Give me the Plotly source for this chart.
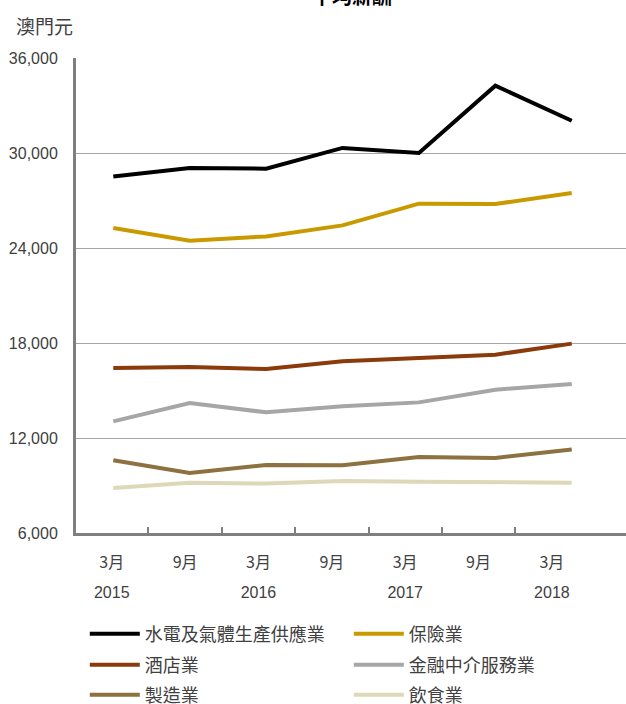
import plotly.graph_objects as go

periods = ["3月 2015", "9月 2015", "3月 2016", "9月 2016", "3月 2017", "9月 2017", "3月 2018"]
month_labels = ["3月", "9月", "3月", "9月", "3月", "9月", "3月"]
year_labels = ["2015", "", "2016", "", "2017", "", "2018"]

series_names = ["水電及氣體生產供應業", "保險業", "酒店業", "金融中介服務業", "製造業", "飲食業"]
utilities = [28520, 29050, 29010, 30320, 30000, 34250, 32040]
insurance = [25260, 24460, 24730, 25430, 26800, 26780, 27470]
hotels = [16420, 16480, 16360, 16840, 17050, 17260, 17960]
finance = [13050, 14210, 13620, 14000, 14250, 15050, 15410]
manufacturing = [10590, 9790, 10300, 10280, 10800, 10740, 11270]
food = [8840, 9180, 9120, 9280, 9240, 9240, 9180]
colors = ["#000000", "#C99A00", "#8B3A0B", "#A6A6A6", "#8E7140", "#DDD8B8"]

all_values = [utilities, insurance, hotels, finance, manufacturing, food]
legend_ids = ["legend", "legend", "legend2", "legend2", "legend3", "legend3"]

idx = list(range(len(periods)))
fig = go.Figure()
for name, vals, col, lg in zip(series_names, all_values, colors, legend_ids):
    fig.add_trace(go.Scatter(
        x=idx, y=vals, name=name, mode="lines",
        line=dict(color=col, width=4), legend=lg,
        hovertext=periods,
    ))

tick_font = dict(family="Liberation Sans Narrow, Arial Narrow, Liberation Sans, Arial, Noto Sans CJK TC", size=16, color="#404040")
cjk_font = dict(family="Noto Sans CJK TC, Liberation Sans, sans-serif", size=16, color="#404040")

fig.update_layout(
    width=626, height=704,
    margin=dict(l=76, r=0, t=58, b=171, autoexpand=False),
    plot_bgcolor="white", paper_bgcolor="white",
    showlegend=True,
    xaxis=dict(visible=False, range=[-0.488, 6.71], fixedrange=True),
    xaxis2=dict(overlaying="x", range=[-0.487, 7.01], tickmode="array",
                tickvals=idx, ticktext=month_labels, ticks="",
                showline=True, linecolor="#7F7F7F", linewidth=3, showgrid=False,
                zeroline=False, tickfont=cjk_font, ticklabelstandoff=13,
                minor=dict(tickmode="array", tickvals=[i + 0.5 for i in idx[:-1]],
                           ticks="inside", ticklen=6, tickwidth=2, tickcolor="#7F7F7F",
                           showgrid=False),
                anchor="y"),
    xaxis3=dict(overlaying="x", range=[-0.487, 7.01], tickmode="array",
                tickvals=idx, ticktext=year_labels, ticks="", showline=False,
                showgrid=False, zeroline=False, tickfont=tick_font,
                ticklabelstandoff=48, anchor="y"),
    yaxis=dict(range=[6000, 36000], dtick=6000, tick0=6000, tickformat=",",
               showgrid=True, gridcolor="#A6A6A6", gridwidth=1.3,
               showline=True, linecolor="#7F7F7F", linewidth=3,
               zeroline=False, ticks="", tickfont=tick_font, ticklabelstandoff=12),
    annotations=[
        dict(text="澳門元", xref="paper", yref="paper", x=-0.112, y=1.0,
             xanchor="left", yanchor="bottom", yshift=17, showarrow=False,
             font=dict(family="Noto Sans CJK TC", size=19, color="#404040")),
        dict(text="<b>平均薪酬</b>", xref="paper", yref="paper", x=0.502, y=1.0,
             xanchor="center", yanchor="middle", yshift=63, showarrow=False,
             font=dict(family="Noto Sans CJK TC", size=20, color="#000000")),
    ],
)

legend_common = dict(orientation="h", xanchor="left", yanchor="middle",
                     entrywidth=199, entrywidthmode="pixels",
                     font=dict(family="Noto Sans CJK TC", size=18, color="#404040"),
                     bgcolor="rgba(0,0,0,0)", traceorder="normal", itemwidth=50)
fig.update_layout(
    legend=dict(x=0.016, y=-0.2126, **legend_common),
    legend2=dict(x=0.016, y=-0.2779, **legend_common),
    legend3=dict(x=0.016, y=-0.3411, **legend_common),
)

fig.add_trace(go.Scatter(x=[None], y=[None], xaxis="x2", showlegend=False, hoverinfo="skip"))
fig.add_trace(go.Scatter(x=[None], y=[None], xaxis="x3", showlegend=False, hoverinfo="skip"))

fig.write_html("out.html", config={"displayModeBar": False},
               post_script="document.body.style.margin='0';")
